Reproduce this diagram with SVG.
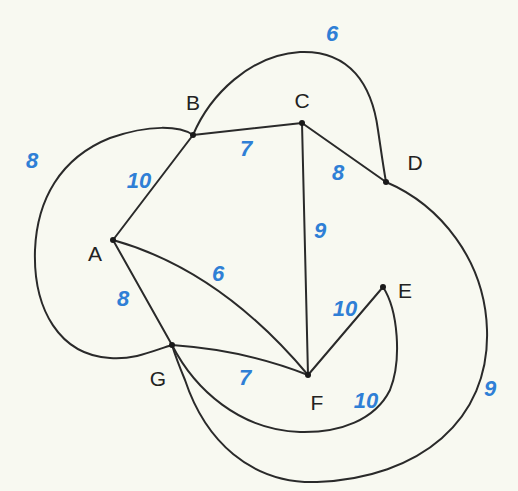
<svg xmlns="http://www.w3.org/2000/svg" width="518" height="491" viewBox="0 0 518 491">
<style>
.e{fill:none;stroke:#2a2a2a;stroke-width:2;stroke-linecap:round}
.d{fill:#1a1a1a}
.n{font-family:"Liberation Sans",Arial,sans-serif;font-size:21px;fill:#222;text-anchor:middle}
.w{font-family:"Liberation Sans",Arial,sans-serif;font-size:22px;font-weight:bold;font-style:italic;fill:#2f7fd6;text-anchor:middle}
</style>
<rect width="518" height="491" fill="#f8f9f1"/>
<g id="connectors">
<path class="e" d="M193,135 L302,123"/>
<path class="e" d="M193,135 L113,240"/>
<path class="e" d="M302,123 L386,182"/>
<path class="e" d="M302,123 L308,375"/>
<path class="e" d="M113,240 L172,345"/>
<path class="e" d="M308,375 L383,287"/>
<path class="e" d="M113,240 Q220,270 308,375"/>
<path class="e" d="M172,345 Q245,350 308,375"/>
<path class="e" d="M193,135 C180,126 150,124 110,138 C60,158 37,200 35,250 C33,310 60,355 110,358 C135,360 155,350 172,345"/>
<path class="e" d="M193,135 C210,95 250,55 300,52 C350,50 372,85 378,130 C381,150 383,165 386,182"/>
<path class="e" d="M386,182 C440,205 485,260 487,330 C490,420 420,478 317,482 C250,484 205,440 185,380 C180,368 175,355 172,345"/>
<path class="e" d="M383,287 C398,310 402,360 390,390 C375,420 340,433 300,432 C240,430 195,390 172,345"/>
<text class="w" x="246" y="156">7</text>
<text class="w" x="139" y="188">10</text>
<text class="w" x="32" y="168">8</text>
<text class="w" x="332" y="41">6</text>
<text class="w" x="338" y="180">8</text>
<text class="w" x="320" y="238">9</text>
<text class="w" x="218" y="281">6</text>
<text class="w" x="123" y="306">8</text>
<text class="w" x="345" y="316">10</text>
<text class="w" x="245" y="385">7</text>
<text class="w" x="366" y="408">10</text>
<text class="w" x="490" y="396">9</text>
</g>
<g id="node-A"><circle class="d" cx="113" cy="240" r="3"/><text class="n" x="95" y="261">A</text></g>
<g id="node-B"><circle class="d" cx="193" cy="135" r="3"/><text class="n" x="193" y="110">B</text></g>
<g id="node-C"><circle class="d" cx="302" cy="123" r="3"/><text class="n" x="302" y="108">C</text></g>
<g id="node-D"><circle class="d" cx="386" cy="182" r="3"/><text class="n" x="415" y="170">D</text></g>
<g id="node-E"><circle class="d" cx="383" cy="287" r="3"/><text class="n" x="405" y="298">E</text></g>
<g id="node-F"><circle class="d" cx="308" cy="375" r="3"/><text class="n" x="317" y="410">F</text></g>
<g id="node-G"><circle class="d" cx="172" cy="345" r="3"/><text class="n" x="158" y="386">G</text></g>
</svg>
